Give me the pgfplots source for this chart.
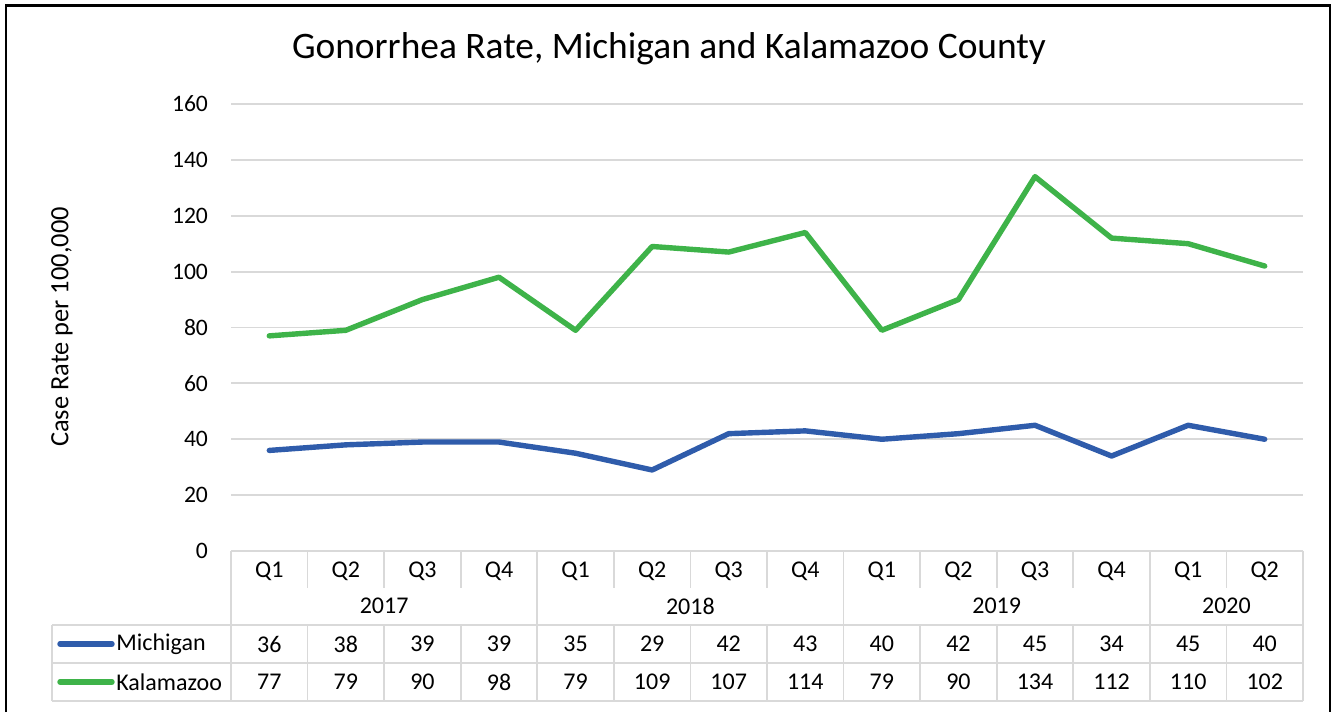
\documentclass[border=0pt]{standalone}
\usepackage{pgfplots}
\pgfplotsset{compat=1.18}
\usepackage{fontspec}
\setmainfont{Carlito}

\definecolor{michblue}{RGB}{47,92,171}
\definecolor{kalgreen}{RGB}{62,179,73}
\definecolor{gridgray}{RGB}{217,217,217}

\begin{document}
\begin{tikzpicture}
  % page frame, 1px = 0.5pt
  \path (0,0) rectangle (669pt,356pt);
  \draw[black, line width=1.3pt] (3pt,0) -- (3pt,353.25pt) -- (665pt,353.25pt) -- (665pt,0);

  \begin{axis}[
    at={(115.5pt,80.5pt)},
    anchor=south west,
    scale only axis,
    width=536pt,
    height=223.5pt,
    xmin=-0.5, xmax=13.5,
    ymin=0, ymax=160,
    ytick={0,20,...,160},
    xtick=\empty,
    axis line style={draw=none},
    major tick length=0pt,
    ymajorgrids,
    grid style={gridgray, line width=0.9pt},
    yticklabel style={font=\fontsize{11.8}{13}\selectfont, xshift=-8pt},
    /pgf/number format/assume math mode=true,
    clip=false,
  ]
    \addplot[michblue, line width=2.7pt, line join=round, line cap=round] coordinates {
      (0,36) (1,38) (2,39) (3,39) (4,35) (5,29) (6,42)
      (7,43) (8,40) (9,42) (10,45) (11,34) (12,45) (13,40)
    };
    \addplot[kalgreen, line width=2.7pt, line join=round, line cap=round] coordinates {
      (0,77) (1,79) (2,90) (3,98) (4,79) (5,109) (6,107)
      (7,114) (8,79) (9,90) (10,134) (11,112) (12,110) (13,102)
    };
  \end{axis}

  % title, y label and data table (pixel coordinates)
  \begin{scope}[x=0.5pt, y=-0.5pt, shift={(0,356pt)}]
    \node[font=\fontsize{18.7}{21}\selectfont] at (669,49) {Gonorrhea Rate, Michigan and Kalamazoo County};
    \node[font=\fontsize{13.2}{15}\selectfont, rotate=90] at (62,327) {Case Rate per 100,000};

    \begin{scope}[gridgray, line width=0.9pt]
      \draw (231,551) -- (1303,551);
      \draw (52,625) -- (1303,625);
      \draw (52,663) -- (1303,663);
      \draw (52,701) -- (1303,701);
      \draw (52,625) -- (52,701);
      \foreach \k in {0,4,8,12,14} {
        \draw ({231+\k*76.5714},551) -- ({231+\k*76.5714},701);
      }
      \foreach \k in {1,2,3,5,6,7,9,10,11,13} {
        \draw ({231+\k*76.5714},551) -- ({231+\k*76.5714},588);
        \draw ({231+\k*76.5714},625) -- ({231+\k*76.5714},701);
      }
    \end{scope}

    \begin{scope}[font=\fontsize{12}{14}\selectfont]
      \foreach \q [count=\i from 0] in {Q1,Q2,Q3,Q4,Q1,Q2,Q3,Q4,Q1,Q2,Q3,Q4,Q1,Q2} {
        \node at ({269.3+\i*76.5714},571) {\q};
      }
      \node at (384.1,606) {2017};
      \node at (690.4,606) {2018};
      \node at (996.7,606) {2019};
      \node at (1226.4,606) {2020};
      \foreach \v [count=\i from 0] in {36,38,39,39,35,29,42,43,40,42,45,34,45,40} {
        \node at ({269.3+\i*76.5714},644) {\v};
      }
      \foreach \v [count=\i from 0] in {77,79,90,98,79,109,107,114,79,90,134,112,110,102} {
        \node at ({269.3+\i*76.5714},682) {\v};
      }
      \draw[michblue, line width=2.7pt, line cap=round] (60,644) -- (112,644);
      \draw[kalgreen, line width=2.7pt, line cap=round] (60,682) -- (112,682);
      \node[anchor=west, inner sep=0pt] at (116,644) {Michigan};
      \node[anchor=west, inner sep=0pt] at (116,682) {Kalamazoo};
    \end{scope}
  \end{scope}
\end{tikzpicture}
\end{document}
